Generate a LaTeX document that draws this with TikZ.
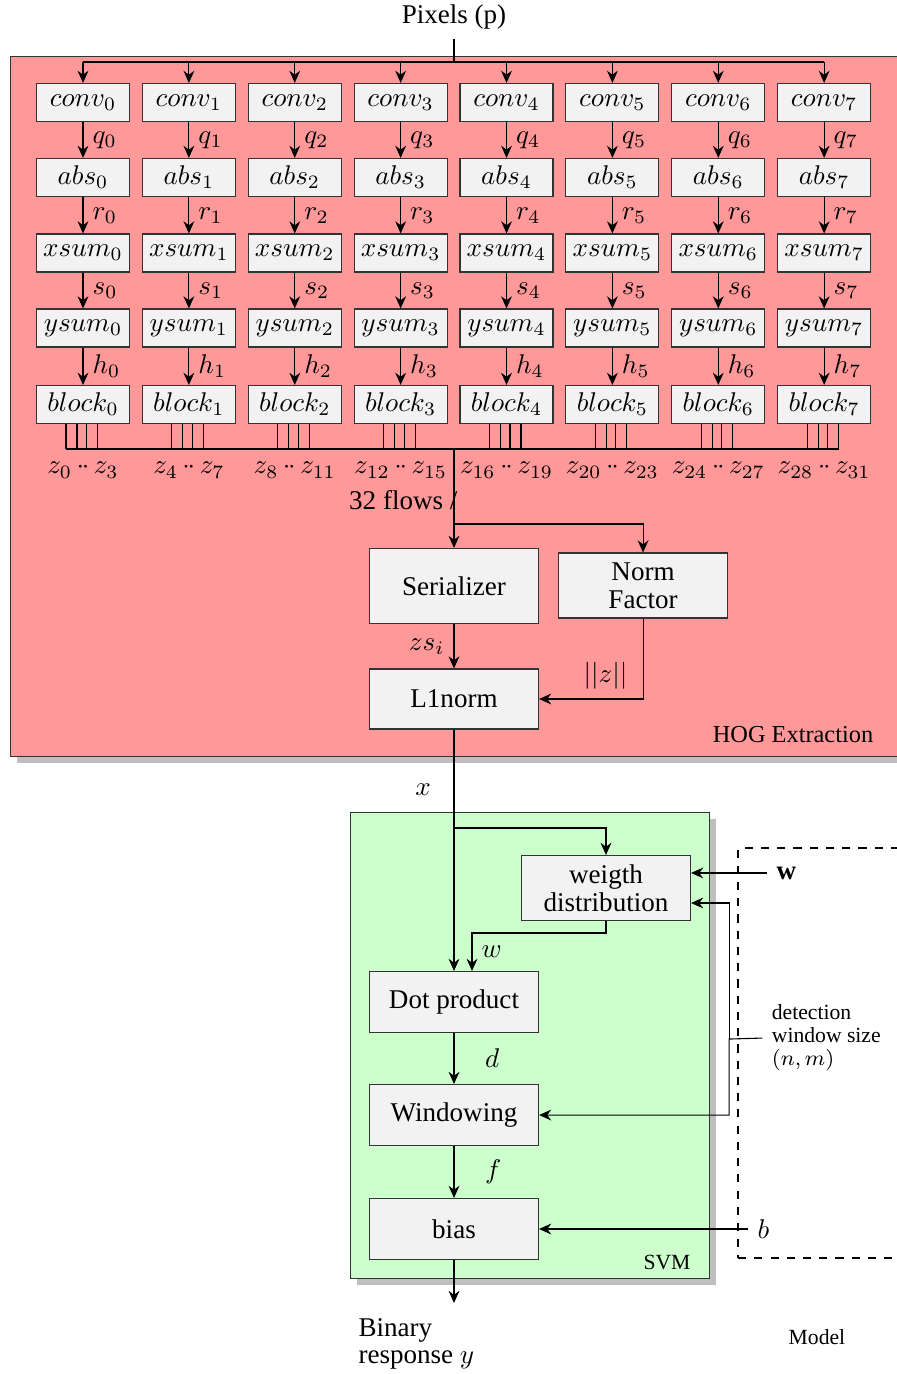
\documentclass[tikz,border=0pt]{standalone}
\usepackage{fontspec}
\setmainfont{Liberation Serif}
\usetikzlibrary{arrows.meta,shadows}

\begin{document}
\begin{tikzpicture}[>={Stealth[length=4.5pt,width=4pt]},
		cell/.style = {draw=black!80, fill=black!5, minimum width=1.208cm, minimum height=.494cm, inner sep=0pt},
		stage/.style = {draw=black!80, fill=black!5, minimum width=2.195cm, minimum height=.792cm, align=center, inner sep=0pt},
		area/.style = {draw=black!80, drop shadow, anchor=north west, inner sep=0pt}]
			\useasboundingbox (0,0) rectangle (11.649,-17.844);
			% HOG extraction
			\node (hog) at (0.13,-0.727) [area, fill=red!40, minimum width=11.69cm, minimum height=9.091cm] {};
			\node (hoglbl) at (10.299,-9.545) [font=\small] {HOG Extraction};
			\node (pix) at (5.896,-0.221) {Pixels (p)};
			\coordinate (bus) at (5.896,-0.805);
			\coordinate (flow) at (5.896,-5.831);
			\draw (pix) -- (bus);
			\foreach \i in {0,...,7} {
				\pgfmathsetmacro{\cx}{1.078+1.375*\i}
				\pgfmathtruncatemacro{\za}{4*\i}
				\pgfmathtruncatemacro{\zb}{4*\i+3}
				\node (conv\i)  at (\cx, -1.331) [cell] {$conv_{\i}$};
				\node (abs\i)   at (\cx, -2.305) [cell] {$abs_{\i}$};
				\node (xsum\i)  at (\cx, -3.286) [cell] {$xsum_{\i}$};
				\node (ysum\i)  at (\cx, -4.260) [cell] {$ysum_{\i}$};
				\node (block\i) at (\cx, -5.253) [cell] {$block_{\i}$};
				\node (z\i)     at (\cx, -6.104)         {$z_{\za}\,{\cdot}\mkern-1.5mu{\cdot}\,z_{\zb}$};
				\draw [->] (bus -| conv\i) -- (conv\i);
				\draw [->] (conv\i) -- node [right] {$q_{\i}$} (abs\i);
				\draw [->] (abs\i)  -- node [right] {$r_{\i}$} (xsum\i);
				\draw [->] (xsum\i) -- node [right] {$s_{\i}$} (ysum\i);
				\draw [->] (ysum\i) -- node [right] {$h_{\i}$} (block\i);
				\foreach \d in {-0.221,-0.078,0.045,0.188}
					\draw ([xshift=\d cm]block\i.south) -- ([xshift=\d cm]block\i.south |- flow);
			}
			\draw (bus -| conv0) -- (bus -| conv7);
			\draw ([xshift=-0.221cm]block0.south |- flow) -- ([xshift=0.188cm]block7.south |- flow);
			\node (flows) at (5.948,-6.494) [anchor=east, inner sep=0pt] {32 flows /};
			\coordinate (split) at (5.896,-6.805);
			\node (ser)  at (5.896,-7.610) [stage, minimum height=.974cm] {Serializer};
			\node (norm) at (8.351,-7.604) [stage, minimum height=.844cm] {Norm\\[-1.5pt]Factor};
			\node (l1)   at (5.896,-9.078) [stage, minimum height=.779cm] {L1norm};
			\draw [->] (flow) -- (ser);
			\draw [->] (split) -| (norm);
			\draw [->] (ser) -- node [left] {$zs_i$} (l1);
			\draw [->] (norm) |- node [pos=0.68, above] {$||z||$} (l1);
			% SVM
			\node (svm) at (4.545,-10.545) [area, fill=green!20, minimum width=4.663cm, minimum height=6.052cm] {};
			\node (svmlbl) at (8.662,-16.390) [font=\footnotesize] {SVM};
			\node (model) at (9.571,-11.0) [draw, thick, dashed, anchor=north west, minimum width=2.6cm, minimum height=5.325cm] {};
			\node (mdllbl) at (10.610,-17.364) [font=\footnotesize] {Model};
			\node (wd)   at (7.870,-11.532) [stage, minimum height=.844cm] {weigth\\[-1.5pt]distribution};
			\node (dot)  at (5.896,-13.013) [stage] {Dot product};
			\node (win)  at (5.896,-14.481) [stage] {Windowing};
			\node (bias) at (5.896,-15.961) [stage] {bias};
			\coordinate (xsplit) at (5.896,-10.753);
			\draw [->] (l1) -- node [pos=0.248, left=5pt] {$x$} (dot);
			\draw [->] (xsplit) -| (wd);
			\draw [->] (wd.south) -- ++(0,-0.156) -| node [pos=0.75, right] {$w$} ([xshift=0.234cm]dot.north);
			\node (wv) at (9.961,-11.337) [right] {$\mathbf{w}$};
			\draw [->] (wv) -- (wv -| wd.east);
			\coordinate (dws) at (9.468,-13.494);
			\node (dwl) at (9.90,-13.481) [right, align=left, font=\footnotesize] {detection\\[-1pt]window size\\[-1pt]$(n,m)$};
			\draw [->] (dwl.west) -- (dws) |- (win);
			\draw [->] (dws) |- ([yshift=-0.195cm]wd.east);
			\draw [->] (dot) -- node [right=0.28cm] {$d$} (win);
			\draw [->] (win) -- node [right=0.28cm] {$f$} (bias);
			\node (bv) at (9.714,-15.961) [right] {$b$};
			\draw [->] (bv) -- (bias);
			\coordinate (yout) at (5.896,-16.922);
			\draw [->] (bias) -- (yout);
			\node (resp) at (4.649,-17.117) [anchor=north west, align=left, inner sep=0pt] {Binary\\[-2pt]response $y$};
		\end{tikzpicture}
\end{document}
